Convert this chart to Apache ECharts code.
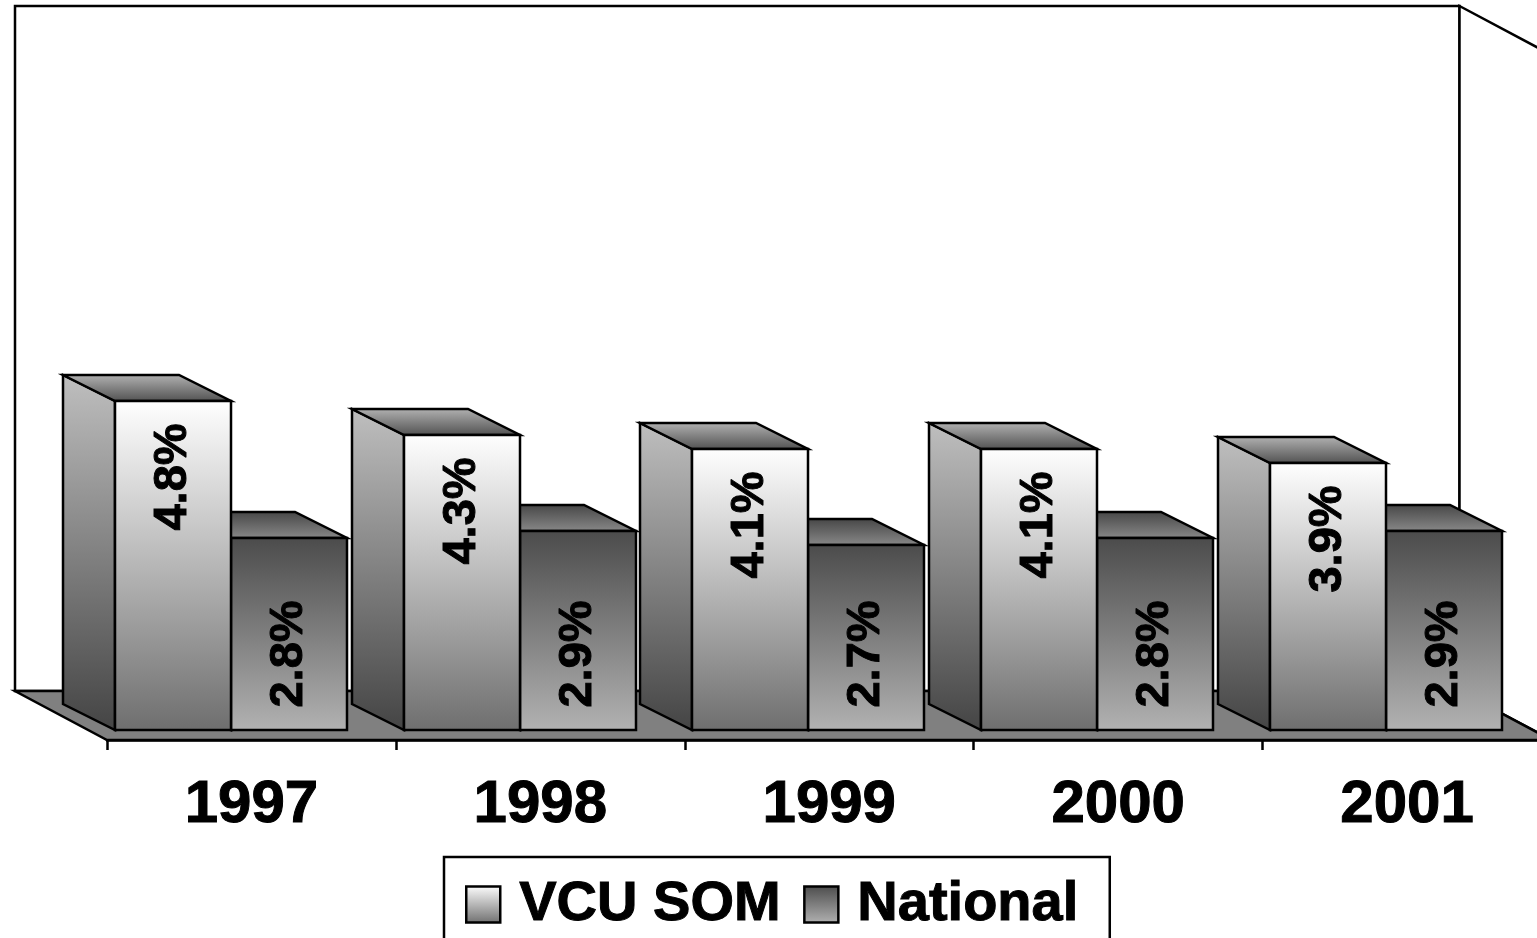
<!DOCTYPE html>
<html>
<head>
<meta charset="utf-8">
<style>html,body{margin:0;padding:0;background:#fff;overflow:hidden}#c{width:1537px;height:938px}</style>
<script src="https://cdn.jsdelivr.net/npm/echarts@6/dist/echarts.min.js"></script>
</head>
<body>
<div id="c"></div>
<script>
var years = ['1997','1998','1999','2000','2001'];
var vcuSom = [4.8,4.3,4.1,4.1,3.9];
var national = [2.8,2.9,2.7,2.8,2.9];

var FONT = '"Liberation Sans", Arial, sans-serif';
var LG = echarts.graphic.LinearGradient;
function grad(a,b){return new LG(0,0,0,1,[{offset:0,color:a},{offset:1,color:b}]);}

var wallDepth = {dx:92, dy:49};
var barDepth = {dx:52, dy:26};
var barFront = {dx:20.8, dy:10};
var barW = 116;

var looks = {
  vcu:{front:['#ffffff','#6e6e6e'], side:['#bfbfbf','#444444'], top:['#b4b4b4','#4f4f4f'], dir:-1, labelFromTop:76},
  nat:{front:['#4b4b4b','#b2b2b2'], side:['#bfbfbf','#444444'], top:['#454545','#8a8a8a'], dir:1, labelFromBase:76}
};
var stroke = {stroke:'#000', lineWidth:2.5, lineJoin:'miter'};
function poly(pts, fill){
  return {type:'polygon', shape:{points:pts}, style:Object.assign({fill:fill}, stroke)};
}
function barRender(look){
  return function(params, api){
    var i = api.value(0), v = api.value(1);
    var top = api.coord([i,v]), base = api.coord([i,0]);
    var seam = Math.round(top[0]-barFront.dx);
    var a = look.dir<0 ? seam-barW : seam;
    var b = a+barW;
    var yb = Math.round(base[1]-barFront.dy), yt = Math.round(top[1]-barFront.dy);
    var dx = barDepth.dx, dy = barDepth.dy;
    var labelY = look.labelFromBase ? yb-look.labelFromBase : yt+look.labelFromTop;
    return {type:'group', children:[
      poly([[a,yt],[a-dx,yt-dy],[a-dx,yb-dy],[a,yb]], grad(look.side[0],look.side[1])),
      poly([[a,yt],[b,yt],[b-dx,yt-dy],[a-dx,yt-dy]], grad(look.top[0],look.top[1])),
      poly([[a,yt],[b,yt],[b,yb],[a,yb]], grad(look.front[0],look.front[1])),
      {type:'text', x:(a+b)/2, y:labelY, rotation:Math.PI/2,
       style:{text:v.toFixed(1)+'%', fill:'#000', stroke:'#000', lineWidth:1, font:'bold 47px '+FONT, align:'center', verticalAlign:'middle'}}
    ]};
  };
}
function frameRender(params){
  var c = params.coordSys, L=c.x, R=c.x+c.width, T=c.y, B=c.y+c.height;
  var dx=wallDepth.dx, dy=wallDepth.dy;
  return {type:'group', children:[
    poly([[L-dx,T-dy],[R-dx,T-dy],[R-dx,B-dy],[L-dx,B-dy]], '#fff'),
    poly([[R-dx,T-dy],[R,T],[R,B],[R-dx,B-dy]], '#fff'),
    poly([[L-dx,B-dy],[R-dx,B-dy],[R,B],[L,B]], '#808080')
  ]};
}
function pairs(arr){return arr.map(function(v,i){return [i,v];});}

var chart = echarts.init(document.getElementById('c'));
chart.setOption({
  animation:false,
  backgroundColor:'#fff',
  grid:{left:107, top:55, width:1444.5, height:685, containLabel:false, outerBoundsMode:'none'},
  xAxis:{type:'category', data:years, z:5,
    axisLine:{lineStyle:{color:'#000',width:2.5}},
    axisTick:{show:true, length:10, lineStyle:{color:'#000',width:2.5}},
    axisLabel:{color:'#000', fontFamily:FONT, fontWeight:'bold', fontSize:60, margin:35, interval:0, hideOverlap:false,
      textBorderColor:'#000', textBorderWidth:1}
  },
  yAxis:{type:'value', min:0, max:10, show:false},
  legend:{
    left:444, top:857, orient:'horizontal', selectedMode:false,
    data:[
      {name:'VCU SOM', icon:'rect', itemStyle:{color:grad('#ffffff','#6e6e6e'), borderColor:'#000', borderWidth:2.5}},
      {name:'National', icon:'rect', itemStyle:{color:grad('#4b4b4b','#b2b2b2'), borderColor:'#000', borderWidth:2.5}}
    ],
    itemWidth:34, itemHeight:36, itemGap:22,
    padding:[19,31,30,21],
    borderColor:'#000', borderWidth:2.5, backgroundColor:'#fff',
    textStyle:{color:'#000', fontFamily:FONT, fontWeight:'bold', fontSize:56, padding:[0,0,0,14],
      textBorderColor:'#000', textBorderWidth:1}
  },
  series:[
    {type:'custom', name:'frame', z:1, silent:true, clip:false, data:[[0,0]], renderItem:frameRender},
    {type:'custom', name:'National', z:2, silent:true, clip:false, data:pairs(national), renderItem:barRender(looks.nat),
     itemStyle:{color:'#808080'}},
    {type:'custom', name:'VCU SOM', z:3, silent:true, clip:false, data:pairs(vcuSom), renderItem:barRender(looks.vcu),
     itemStyle:{color:'#eeeeee'}}
  ]
});
</script>
</body>
</html>
